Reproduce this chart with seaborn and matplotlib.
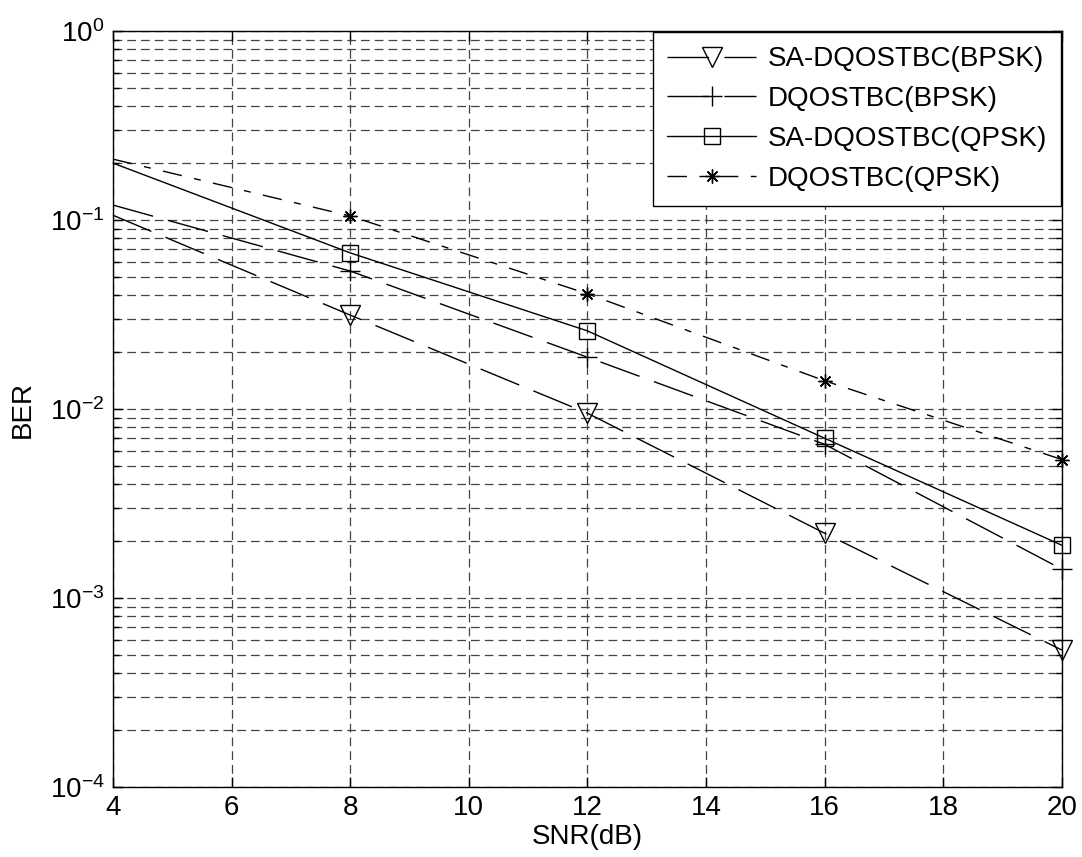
import numpy as np
import pandas as pd
import matplotlib
matplotlib.use("Agg")
import matplotlib.pyplot as plt
import seaborn as sns
from matplotlib.ticker import LogLocator, NullFormatter

snr = [4, 8, 12, 16, 20]
sa_bpsk = [0.106, 0.0314, 0.0095, 0.0022, 0.00053]
dq_bpsk = [0.12, 0.0537, 0.0188, 0.0065, 0.00142]
sa_qpsk = [0.20, 0.067, 0.0259, 0.0070, 0.0019]
dq_qpsk = [0.21, 0.105, 0.0407, 0.0141, 0.0054]
labels = ["SA-DQOSTBC(BPSK)", "DQOSTBC(BPSK)", "SA-DQOSTBC(QPSK)", "DQOSTBC(QPSK)"]
series = [sa_bpsk, dq_bpsk, sa_qpsk, dq_qpsk]

sns.set_theme(style="ticks")
plt.rcParams["font.family"] = ["Liberation Sans", "DejaVu Sans"]
plt.rcParams["xtick.direction"] = "in"
plt.rcParams["ytick.direction"] = "in"
for k in ["text.color", "axes.labelcolor", "xtick.color", "ytick.color", "axes.edgecolor"]:
    plt.rcParams[k] = "black"

fig = plt.figure(figsize=(10.82, 8.57), dpi=100)
ax = fig.add_axes([0.1044, 0.0817, 0.8771, 0.8821])

styles = [
    dict(marker="v", ms=14, dashes=(30, 11)),
    dict(marker="+", ms=14, dashes=(30, 11)),
    dict(marker="s", ms=12, dashes=None),
    dict(marker=(8, 2, 0), ms=10, dashes=(14, 9, 5, 9)),
]

for lab, vals, st in zip(labels, series, styles):
    df = pd.DataFrame({"SNR": snr, "BER": vals})
    kw = dict(color="black", lw=1.0, marker=st["marker"], markersize=st["ms"],
              markerfacecolor="none", markeredgecolor="black", markeredgewidth=1.0,
              markevery=[1, 2, 3, 4], label=lab, clip_on=False)
    sns.lineplot(data=df, x="SNR", y="BER", ax=ax, **kw)
    line = ax.lines[-1]
    if st["dashes"] is not None:
        line.set_dashes(st["dashes"])

ax.set_yscale("log")
ax.set_xlim(4, 20)
ax.set_ylim(1e-4, 1)
ax.set_xticks([4, 6, 8, 10, 12, 14, 16, 18, 20])
ax.yaxis.set_major_locator(LogLocator(base=10, numticks=10))
ax.yaxis.set_minor_locator(LogLocator(base=10, subs=np.arange(2, 10), numticks=20))
ax.yaxis.set_minor_formatter(NullFormatter())

gkw = dict(color="#444444", linestyle=(0, (7, 4)), linewidth=0.9)
ax.grid(True, which="major", axis="both", **gkw)
ax.grid(True, which="minor", axis="y", **gkw)
ax.set_axisbelow(True)

ax.tick_params(which="both", top=True, right=True, labelsize=20, width=1,
               color="black", labelcolor="black")
ax.tick_params(which="major", length=7, pad=6)
ax.tick_params(which="minor", length=4)
for s in ax.spines.values():
    s.set_color("black")
    s.set_linewidth(1.0)

ax.set_xlabel("SNR(dB)", fontsize=20, labelpad=2, color="black")
ax.set_ylabel("BER", fontsize=20, labelpad=10, color="black")

leg = ax.legend(loc="upper right", fontsize=20, frameon=True, fancybox=False,
                edgecolor="black", framealpha=1, handlelength=3.2, borderaxespad=0.05,
                labelspacing=0.5, handletextpad=0.4, borderpad=0.5, numpoints=1)
leg.get_frame().set_linewidth(1.0)
for t in leg.get_texts():
    t.set_color("black")

fig.savefig("out.png", dpi=100)
